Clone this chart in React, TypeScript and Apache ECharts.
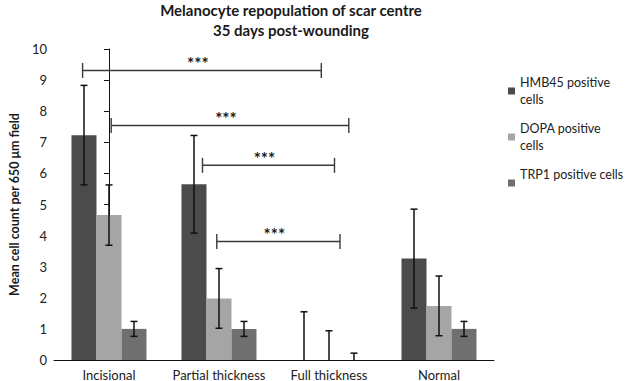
import React, { useEffect, useRef } from "react";
import * as echarts from "echarts";

const categories = ["Incisional", "Partial thickness", "Full thickness", "Normal"];
const seriesNames = ["HMB45 positive cells", "DOPA positive cells", "TRP1 positive cells"];
const hmb45 = [7.23, 5.65, 0, 3.26];
const hmb45Err = [1.6, 1.57, 1.55, 1.59];
const dopa = [4.66, 1.98, 0, 1.74];
const dopaErr = [0.97, 0.96, 0.94, 0.96];
const trp1 = [1.0, 1.0, 0, 1.0];
const trp1Err = [0.24, 0.24, 0.22, 0.24];
const yTicks = [0, 1, 2, 3, 4, 5, 6, 7, 8, 9, 10];

// significance brackets (x in category units, y in value units)
const sigStart = [-0.24, 0.02, 0.85, 0.98];
const sigEnd = [1.93, 2.18, 2.05, 2.1];
const sigY = [9.31, 7.54, 6.26, 3.81];
const sigLabel = ["***", "***", "***", "***"];

const colors = ["#4b4b4b", "#a5a5a5", "#6f6f6f"];
const FONT = "Lato, 'Open Sans', sans-serif";
const BAR_W = 25;

export default function App() {
  const ref = useRef<HTMLDivElement>(null);
  useEffect(() => {
    if (!ref.current) return;
    const chart = echarts.init(ref.current, null, { renderer: "svg" });
    const values = [hmb45, dopa, trp1];
    const errs = [hmb45Err, dopaErr, trp1Err];

    const barSeries = values.map((v, i) => ({
      name: seriesNames[i],
      type: "bar",
      data: v,
      barWidth: BAR_W,
      barGap: "0%",
      itemStyle: { color: colors[i] },
      xAxisIndex: 0,
      yAxisIndex: 0,
    }));

    const errSeries = values.map((v, s) => ({
      type: "custom",
      xAxisIndex: 0,
      yAxisIndex: 0,
      silent: true,
      z: 5,
      data: v.map((val, ci) => [ci, Math.max(0, val - errs[s][ci]), val + errs[s][ci]]),
      renderItem: (params: any, api: any) => {
        const ci = api.value(0);
        const lo = api.value(1);
        const hi = api.value(2);
        const pHi = api.coord([ci, hi]);
        const pLo = api.coord([ci, lo]);
        const x = pHi[0] + (s - 1) * BAR_W;
        const cap = 3.5;
        const style = { stroke: "#111", lineWidth: 1.5 };
        const children: any[] = [
          { type: "line", shape: { x1: x, y1: pHi[1], x2: x, y2: pLo[1] }, style },
          { type: "line", shape: { x1: x - cap, y1: pHi[1], x2: x + cap, y2: pHi[1] }, style },
        ];
        if (lo > 0) {
          children.push({ type: "line", shape: { x1: x - cap, y1: pLo[1], x2: x + cap, y2: pLo[1] }, style });
        }
        return { type: "group", children };
      },
    }));

    const sigSeries = {
      type: "custom",
      xAxisIndex: 1,
      yAxisIndex: 0,
      silent: true,
      z: 6,
      encode: { x: [0, 1], y: 2 },
      data: sigStart.map((a, i) => [a, sigEnd[i], sigY[i], i]),
      renderItem: (params: any, api: any) => {
        const p1 = api.coord([api.value(0), api.value(2)]);
        const p2 = api.coord([api.value(1), api.value(2)]);
        const idx = api.value(3);
        const h = 7.5;
        const style = { stroke: "#3a3a3a", lineWidth: 1.4 };
        return {
          type: "group",
          children: [
            { type: "line", shape: { x1: p1[0], y1: p1[1], x2: p2[0], y2: p2[1] }, style },
            { type: "line", shape: { x1: p1[0], y1: p1[1] - h, x2: p1[0], y2: p1[1] + h }, style },
            { type: "line", shape: { x1: p2[0], y1: p2[1] - h, x2: p2[0], y2: p2[1] + h }, style },
            {
              type: "text",
              x: (p1[0] + p2[0]) / 2 - 4,
              y: p1[1] - 7,
              style: {
                text: sigLabel[idx],
                fill: "#1a1a1a",
                fontSize: 17,
                fontWeight: "bold",
                fontFamily: FONT,
                align: "center",
                verticalAlign: "middle",
              },
            },
          ],
        };
      },
    };

    chart.setOption({
      animation: false,
      textStyle: { fontFamily: FONT },
      title: {
        text: "Melanocyte repopulation of scar centre\n35 days post-wounding",
        left: 291,
        top: 0,
        padding: 0,
        textAlign: "center",
        textStyle: { fontSize: 15, fontWeight: "bold", color: "#1a1a1a", lineHeight: 20, fontFamily: FONT },
      },
      legend: {
        orient: "vertical",
        left: 508,
        top: 65.5,
        padding: 0,
        itemGap: -5,
        itemWidth: 7,
        itemHeight: 7,
        icon: "rect",
        data: seriesNames,
        formatter: (n: string) => (n === "TRP1 positive cells" ? n + "\n " : n.replace(" cells", "\ncells")),
        textStyle: { fontSize: 12.5, color: "#222", lineHeight: 17, padding: [17, 0, 0, 0], fontFamily: FONT },
      },
      grid: { left: 40, right: 131, top: 49, bottom: 19, containLabel: false },
      xAxis: [
        {
          type: "category",
          data: categories,
          axisLine: { lineStyle: { color: "#111", width: 1 } },
          axisTick: { show: false },
          axisLabel: { interval: 0, fontSize: 13, color: "#222", margin: 8, fontFamily: FONT },
        },
        { type: "value", min: -0.5, max: 3.5, show: false },
      ],
      yAxis: {
        type: "value",
        min: yTicks[0],
        max: yTicks[yTicks.length - 1],
        interval: 1,
        name: "Mean cell count per 650 μm field",
        nameLocation: "middle",
        nameGap: 30,
        nameTextStyle: { fontSize: 12.5, fontWeight: "bold", color: "#1a1a1a", fontFamily: FONT },
        axisLine: { show: true, lineStyle: { color: "#111", width: 1 } },
        axisTick: { show: true, length: 5, lineStyle: { color: "#111" } },
        splitLine: { show: false },
        axisLabel: { fontSize: 13, color: "#222", margin: 7, fontFamily: FONT },
      },
      series: [...barSeries, ...errSeries, sigSeries],
    });
    return () => chart.dispose();
  }, []);
  return <div ref={ref} style={{ width: 625, height: 381, position: "absolute", left: 0, top: 0 }} />;
}
